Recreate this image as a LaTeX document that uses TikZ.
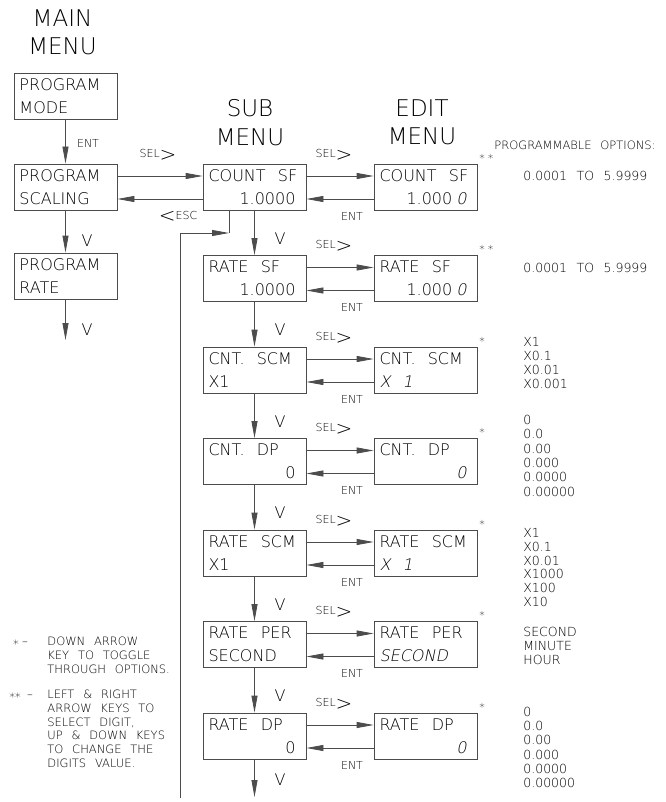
\documentclass[tikz,border=0pt]{standalone}
\usepackage{fontspec}
\setmainfont{DejaVu Sans ExtraLight}[WordSpace=2.4, ItalicFont={DejaVu Sans ExtraLight}, ItalicFeatures={FakeSlant=0.2}]
\usetikzlibrary{arrows.meta}

\newcommand{\titlefont}{\fontsize{23}{28.5}\selectfont}
\newcommand{\boxfont}{\fontsize{16}{23}\selectfont}
\newcommand{\keyfont}{\fontsize{11}{13}\selectfont}
\newcommand{\optfont}{\fontsize{12.5}{14}\selectfont}
\newcommand{\legfont}{\fontsize{11.5}{13.7}\selectfont}
\newcommand{\rline}[1]{\makebox[\linewidth][r]{#1\hspace{5pt}}}
\newcommand{\selkey}{SEL{\fontsize{20}{20}\selectfont\raisebox{-4pt}{>}}}
\newcommand{\esckey}{{\fontsize{20}{20}\selectfont\raisebox{-3pt}{<}}ESC}

\begin{document}
\begin{tikzpicture}[x=1pt, y=-1pt, line width=0.8pt, black!70, text=black,
    menubox/.style={draw, minimum width=103pt, minimum height=46pt,
      text width=92pt, align=flush left, inner sep=0pt, font=\boxfont},
    keylbl/.style={font=\keyfont, inner sep=0pt},
    downlbl/.style={font=\boxfont, inner sep=0pt},
    optlbl/.style={font=\optfont, anchor=west, inner sep=0pt},
    leglbl/.style={font=\legfont, anchor=base, inner sep=0pt},
    flow/.style={-{Triangle[length=17pt,width=6pt]}}]
  \useasboundingbox (0,0) rectangle (665,802);

  % Column titles
  \node[font=\titlefont, align=center] (maintitle) at (62.5,32.5) {MAIN\\MENU};
  \node[font=\titlefont, align=center] (subtitle) at (250,122.5) {SUB\\MENU};
  \node[font=\titlefont, align=center] (edittitle) at (422,122.5) {EDIT\\MENU};

  % Main menu column
  \node[menubox] (mode) at (65.5,96) {PROGRAM\\MODE};
  \node[menubox] (scaling) at (65.5,187) {PROGRAM\\SCALING};
  \node[menubox] (rate) at (65.5,276) {PROGRAM\\RATE};
  \coordinate (rateend) at (65.5,340);
  \draw[flow] (mode.south) -- (scaling.north);
  \draw[flow] (scaling.south) -- (rate.north);
  \draw[flow] (rate.south) -- (rateend);
  \node[keylbl] (ent-mode) at (88,143) {ENT};
  \node[downlbl] (v-scaling) at (87,241) {V};
  \node[downlbl] (v-rate) at (87,330) {V};

  % Sub menu and edit menu rows
  \foreach \k/\id/\sub/\edit in {
      0/countsf/{COUNT SF\\\rline{1.0000}}/{COUNT SF\\\rline{1.000\hspace{4pt}\textit{0}}},
      1/ratesf/{RATE SF\\\rline{1.0000}}/{RATE SF\\\rline{1.000\hspace{4pt}\textit{0}}},
      2/cntscm/{CNT. SCM\\X1}/{CNT. SCM\\\textit{X 1}},
      3/cntdp/{CNT. DP\\\rline{0}}/{CNT. DP\\\rline{\textit{0}}},
      4/ratescm/{RATE SCM\\X1}/{RATE SCM\\\textit{X 1}},
      5/rateper/{RATE PER\\SECOND}/{RATE PER\\\textit{SECOND}},
      6/ratedp/{RATE DP\\\rline{0}}/{RATE DP\\\rline{\textit{0}}}} {
    \node[menubox] (sub-\id) at (254.5,187+91.5*\k) {\sub};
    \node[menubox] (edit-\id) at (425.5,187+91.5*\k) {\edit};
    \draw[flow] ([yshift=11pt]sub-\id.east) -- ([yshift=11pt]edit-\id.west);
    \draw[flow] ([yshift=-12pt]edit-\id.west) -- ([yshift=-12pt]sub-\id.east);
    \node[keylbl] (sel-\id) at (334,155+91.5*\k) {\selkey};
    \node[keylbl] (ent-\id) at (352,216+91.5*\k) {ENT};
  }
  % Asterisks beside the edit boxes
  \foreach \k/\mark in {0/{*\hspace{3pt}*}, 1/{*\hspace{3pt}*}, 2/*, 3/*, 4/*, 5/*, 6/*}
    \node[keylbl, anchor=west] (mark-\k) at (479,158+91.5*\k) {\mark};

  % Down arrows in the sub menu
  \foreach \a/\b [count=\i] in {countsf/ratesf, ratesf/cntscm, cntscm/cntdp,
      cntdp/ratescm, ratescm/rateper, rateper/ratedp} {
    \draw[flow] (sub-\a.south) -- (sub-\b.north);
    \node[downlbl] (v-sub-\i) at (280,147+91.5*\i) {V};
  }
  \coordinate (subend) at (254.5,797);
  \draw[flow] (sub-ratedp.south) -- (subend);
  \node[downlbl] (v-sub-7) at (280,780) {V};

  % Main menu <-> sub menu
  \draw[flow] ([yshift=11pt]scaling.east) -- ([yshift=11pt]sub-countsf.west);
  \draw[flow] ([yshift=-12pt]sub-countsf.west) -- ([yshift=-12pt]scaling.east);
  \node[keylbl] (sel-scaling) at (158,155) {\selkey};
  \node[keylbl] (esc) at (178,217) {\esckey};

  % ESC return line
  \coordinate (esccorner) at (229,233);
  \coordinate (escfoot) at (180,798);
  \draw (sub-countsf.south -| esccorner) -- (esccorner);
  \draw[flow] (escfoot) |- (esccorner);

  % Programmable options
  \node[optlbl, font=\fontsize{11.5}{14}\selectfont] (opthead) at (494,145) {PROGRAMMABLE OPTIONS:};
  \node[optlbl] (opt-countsf) at (523,176) {0.0001 TO 5.9999};
  \node[optlbl] (opt-ratesf) at (523,268) {0.0001 TO 5.9999};
  \foreach \v [count=\i from 0] in {X1, X0.1, X0.01, X0.001}
    \node[optlbl] (opt-cntscm-\i) at (523,342+14*\i) {\v};
  \foreach \v [count=\i from 0] in {0, 0.0, 0.00, 0.000, 0.0000, 0.00000}
    \node[optlbl] (opt-cntdp-\i) at (523,420+14.3*\i) {\v};
  \foreach \v [count=\i from 0] in {X1, X0.1, X0.01, X1000, X100, X10}
    \node[optlbl] (opt-ratescm-\i) at (523,533+13.8*\i) {\v};
  \foreach \v [count=\i from 0] in {SECOND, MINUTE, HOUR}
    \node[optlbl] (opt-rateper-\i) at (523,632+14*\i) {\v};
  \foreach \v [count=\i from 0] in {0, 0.0, 0.00, 0.000, 0.0000, 0.00000}
    \node[optlbl] (opt-ratedp-\i) at (523,712+14.2*\i) {\v};

  % Legend
  \node[leglbl] (star-one) at (16,648) {*};
  \node[leglbl] (dash-one) at (25,645.2) {–};
  \node[font=\legfont, align=flush left, anchor=north west, inner sep=0pt] (leg-one)
    at (47,636.8) {DOWN ARROW\\KEY TO TOGGLE\\THROUGH OPTIONS.};
  \node[leglbl] (star-two) at (15,701) {**};
  \node[leglbl] (dash-two) at (30,698.2) {–};
  \node[font=\legfont, align=flush left, anchor=north west, inner sep=0pt] (leg-two)
    at (47,689.8) {LEFT \& RIGHT\\ARROW KEYS TO\\SELECT DIGIT,\\UP \& DOWN KEYS\\TO CHANGE THE\\DIGITS VALUE.};
\end{tikzpicture}
\end{document}
